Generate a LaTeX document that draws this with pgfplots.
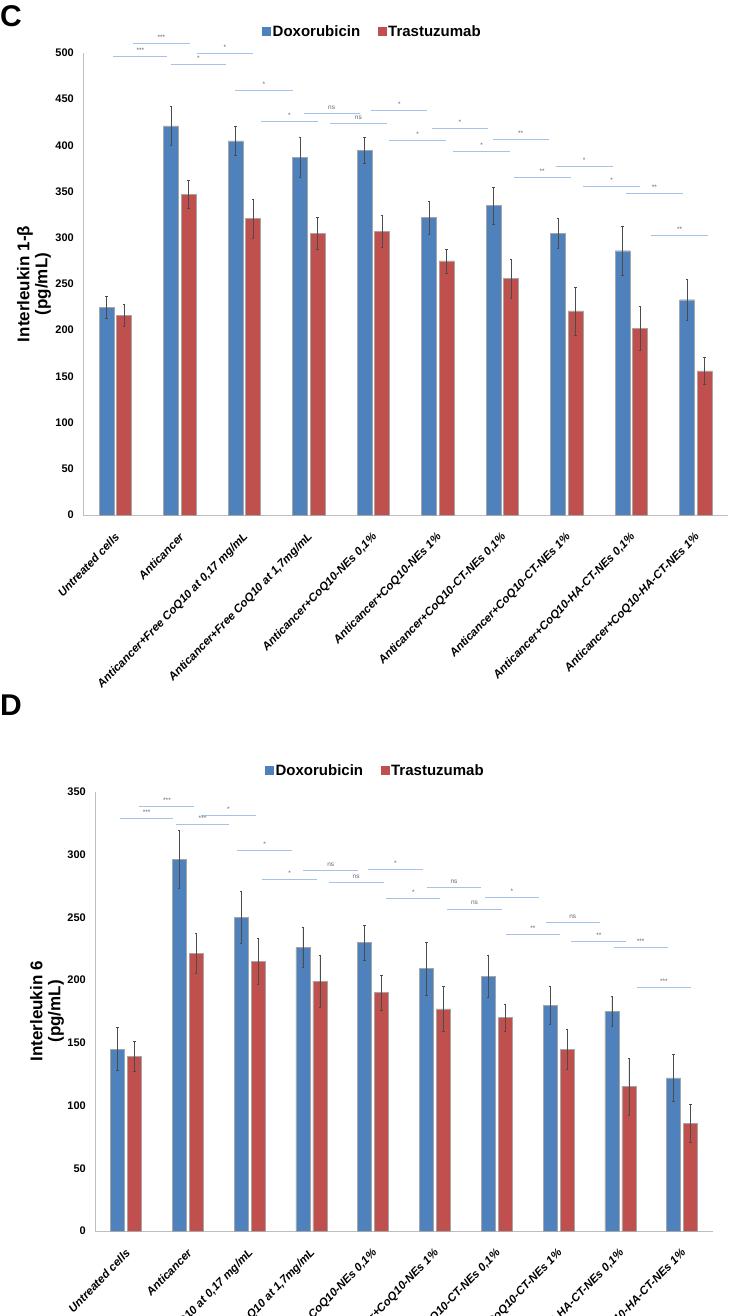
\documentclass[border=0pt]{standalone}
\usepackage{fontspec}
\setmainfont{Liberation Sans}
\usepackage{pgfplots}
\usepackage{pgfplotstable}
\pgfplotsset{compat=1.18}
\definecolor{barblue}{RGB}{79,129,189}
\definecolor{barred}{RGB}{192,80,77}
\definecolor{siglc}{RGB}{165,195,232}
\definecolor{axgray}{RGB}{190,190,190}

\pgfplotstableread{
x dox doxe tra trae
0 225 12 216 12
1 421 21 347 15
2 405 16 321 21
3 387 22 305 17
4 395 14 307 17
5 322 18 275 13
6 335 20 256 21
7 305 16 221 26
8 286 27 202 24
9 233 22 156 15
}\ilb

\pgfplotstableread{
x dox doxe tra trae
0 145 17 139 12
1 296 23 221 16
2 250 21 215 18
3 226 16 199 21
4 230 14 190 14
5 209 21 177 18
6 203 17 170 11
7 180 15 145 16
8 175 12 115 23
9 122 19 86 15
}\ilsix

\newcommand{\sig}[4]{\draw[siglc, line width=0.8pt] (axis cs:#1,#3) -- node[anchor=south, yshift=3pt, text=black!60, font=\fontsize{6.5}{6.5}\selectfont, inner sep=0.5pt] {#4} (axis cs:#2,#3);}

\pgfplotsset{
  panel/.style={
    scale only axis,
    xmin=-0.5, xmax=9.5,
    ymin=0,
    clip=false,
    axis x line=bottom,
    axis y line=left,
    axis line style={axgray, line width=0.8pt, -},
    major tick length=0pt,
    xtick={0,...,9},
    xticklabels={Untreated cells, Anticancer, {Anticancer+Free CoQ10 at 0,17 mg/mL}, {Anticancer+Free CoQ10 at 1,7mg/mL}, {Anticancer+CoQ10-NEs 0,1\%}, Anticancer+CoQ10-NEs 1\%, {Anticancer+CoQ10-CT-NEs 0,1\%}, Anticancer+CoQ10-CT-NEs 1\%, {Anticancer+CoQ10-HA-CT-NEs 0,1\%}, Anticancer+CoQ10-HA-CT-NEs 1\%},
    xticklabel style={yshift=-20pt, xshift=2pt, rotate=46, anchor=east, inner sep=0pt, font=\fontsize{11.5}{13}\selectfont\bfseries\itshape},
    yticklabel style={inner sep=0pt, xshift=-9pt, anchor=east, font=\fontsize{11}{12}\selectfont\bfseries},
    /pgf/number format/assume math mode=true,
    ylabel style={align=center, font=\fontsize{17}{18}\selectfont\bfseries, anchor=center},
    legend columns=2,
    legend style={draw=none, fill=none, inner sep=0pt, anchor=west, font=\fontsize{15}{15}\selectfont\bfseries,
      nodes={inner sep=1.5pt},
      /tikz/every even column/.append style={column sep=16pt}},
    error bars/error bar style={black!70, line width=0.5pt},
    error bars/error mark options={rotate=90, mark size=1.2pt, black!70, line width=0.5pt},
  },
  sqlegend/.style={
    legend image code/.code={\fill[##1, draw=none] (0pt,-4.5pt) rectangle (9pt,4.5pt);},
  },
}

\begin{document}
\begin{tikzpicture}
\useasboundingbox (0pt,0pt) rectangle (735pt,-1316pt);
\node[anchor=base west, inner sep=0pt, font=\fontsize{30}{30}\selectfont\bfseries] at (0pt,-27pt) {C};
\node[anchor=base west, inner sep=0pt, font=\fontsize{30}{30}\selectfont\bfseries] at (0pt,-715pt) {D};

% Panel C
\begin{axis}[panel,
  at={(83pt,-515pt)}, anchor=south west,
  width=645pt, height=462pt,
  ymax=500, ytick={0,50,...,500},
  ybar=2.5pt, bar width=15pt, sqlegend,
  ylabel={Interleukin 1-β\\(pg/mL)},
  ylabel style={at={(axis description cs:-0.076,0.5)}},
  legend style={at={(0.2775,1.0455)}},
]
\addplot[fill=barblue, draw=black!35, line width=0.4pt,
  error bars/.cd, y dir=both, y explicit]
  table[x=x, y=dox, y error=doxe] {\ilb};
\addplot[fill=barred, draw=black!35, line width=0.4pt,
  error bars/.cd, y dir=both, y explicit]
  table[x=x, y=tra, y error=trae] {\ilb};
\legend{Doxorubicin, Trastuzumab}
\sig{0.27}{1.16}{510}{***}
\sig{-0.03}{0.81}{496}{***}
\sig{1.26}{2.14}{500}{*}
\sig{0.86}{1.72}{488}{*}
\sig{1.86}{2.75}{459}{*}
\sig{2.26}{3.14}{426}{*}
\sig{2.92}{3.79}{435}{ns}
\sig{3.33}{4.21}{424}{ns}
\sig{3.97}{4.84}{438}{*}
\sig{4.25}{5.13}{405}{*}
\sig{4.91}{5.78}{418}{*}
\sig{5.24}{6.12}{393}{*}
\sig{5.85}{6.72}{407}{**}
\sig{6.18}{7.06}{365}{**}
\sig{6.83}{7.71}{377}{*}
\sig{7.25}{8.14}{356}{*}
\sig{7.92}{8.80}{348}{**}
\sig{8.31}{9.19}{303}{**}
\end{axis}

% Panel D
\begin{axis}[panel,
  at={(95pt,-1231pt)}, anchor=south west,
  width=618pt, height=439.3pt,
  ymax=350, ytick={0,50,...,350},
  ybar=3pt, bar width=14pt, sqlegend,
  ylabel={Interleukin 6\\(pg/mL)},
  ylabel style={at={(axis description cs:-0.0777,0.5)}},
  legend style={at={(0.275,1.0478)}},
]
\addplot[fill=barblue, draw=black!35, line width=0.4pt,
  error bars/.cd, y dir=both, y explicit]
  table[x=x, y=dox, y error=doxe] {\ilsix};
\addplot[fill=barred, draw=black!35, line width=0.4pt,
  error bars/.cd, y dir=both, y explicit]
  table[x=x, y=tra, y error=trae] {\ilsix};
\legend{Doxorubicin, Trastuzumab}
\sig{0.22}{1.11}{338}{***}
\sig{-0.10}{0.77}{329}{***}
\sig{1.22}{2.10}{331}{*}
\sig{0.81}{1.67}{324}{***}
\sig{1.80}{2.69}{303}{*}
\sig{2.21}{3.09}{280}{*}
\sig{2.87}{3.76}{287}{ns}
\sig{3.28}{4.17}{278}{ns}
\sig{3.92}{4.80}{288}{*}
\sig{4.21}{5.09}{265}{*}
\sig{4.87}{5.75}{274}{ns}
\sig{5.20}{6.08}{256.6}{ns}
\sig{5.81}{6.68}{266}{*}
\sig{6.15}{7.02}{236.6}{**}
\sig{6.79}{7.67}{245.7}{ns}
\sig{7.21}{8.10}{230.8}{**}
\sig{7.89}{8.77}{225.8}{***}
\sig{8.27}{9.14}{193.9}{***}
\end{axis}
\end{tikzpicture}
\end{document}
